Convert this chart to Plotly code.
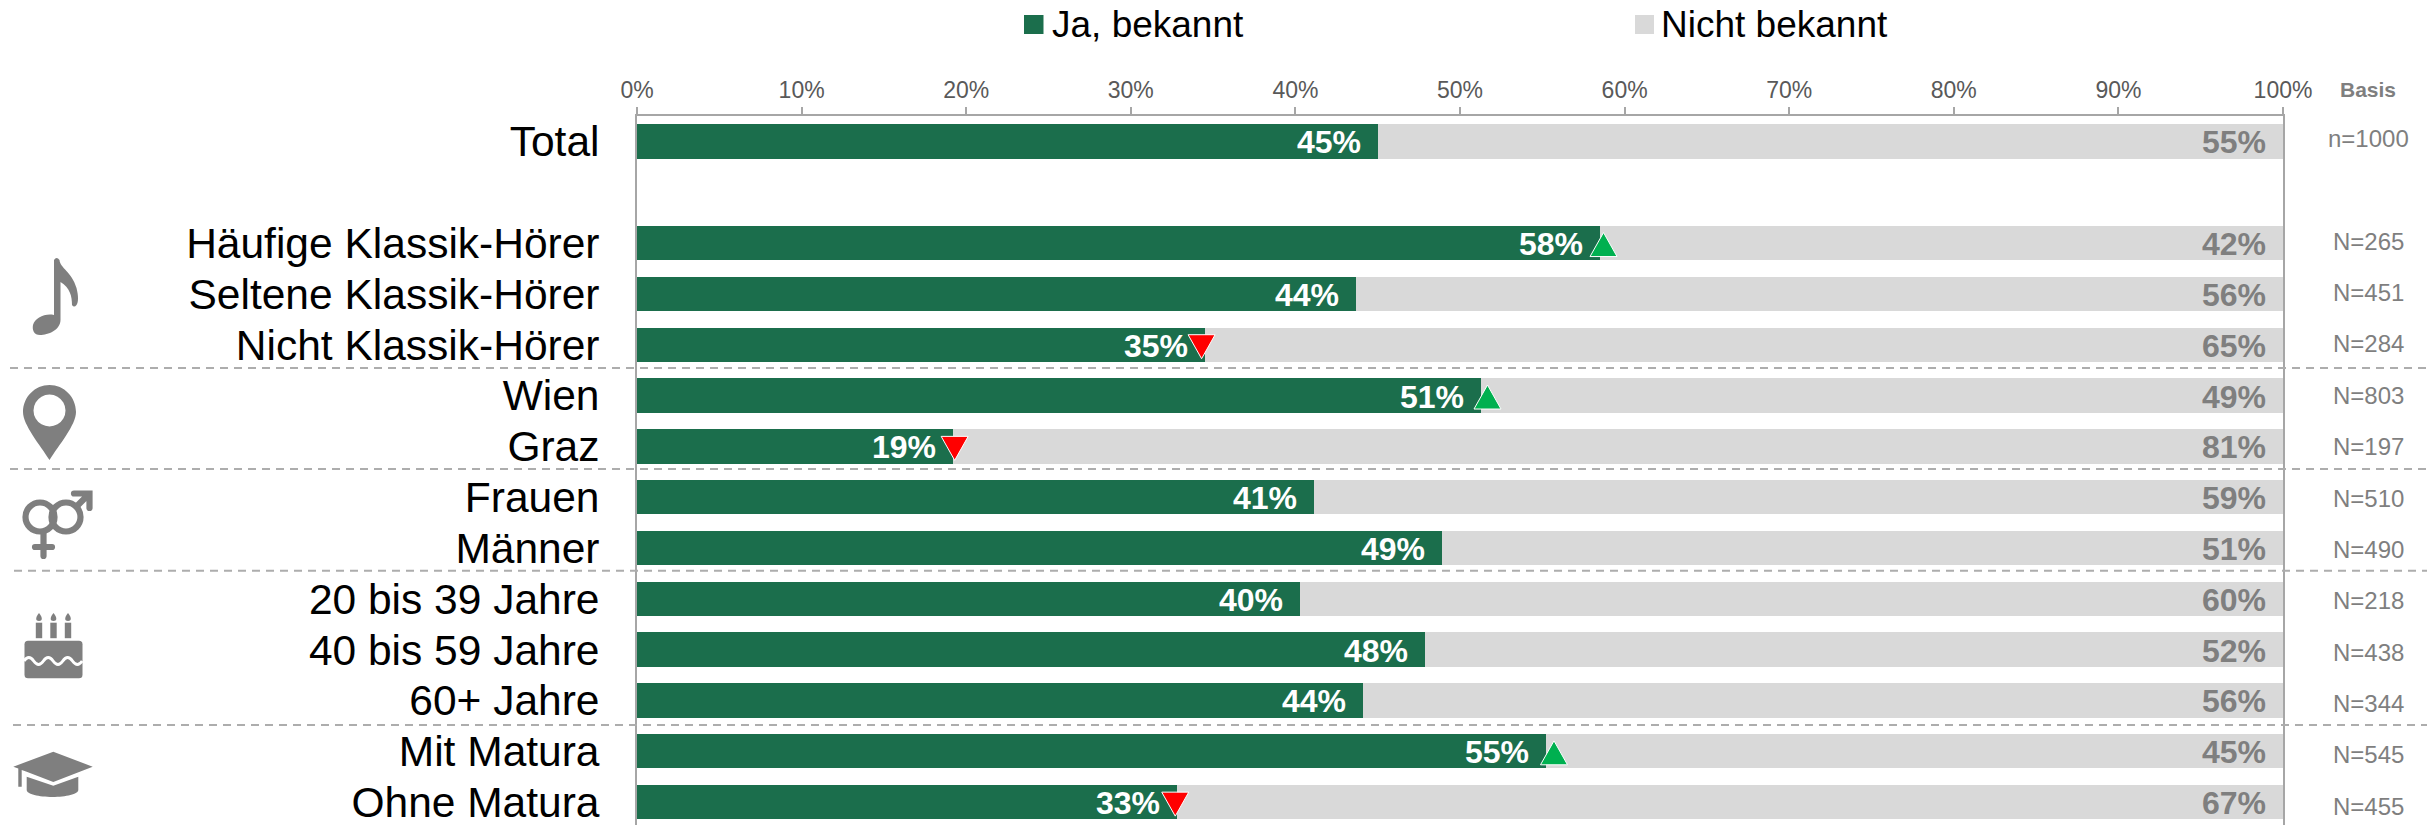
import base64
import plotly.graph_objects as go

FONT = "Liberation Sans"
GREEN = "#1B6E4C"
LIGHT = "#D9D9D9"
GREY = "#7F7F7F"
AXIS = "#A6A6A6"

categories = ["Total", " ", "Häufige Klassik-Hörer", "Seltene Klassik-Hörer", "Nicht Klassik-Hörer",
              "Wien", "Graz", "Frauen", "Männer", "20 bis 39 Jahre", "40 bis 59 Jahre", "60+ Jahre",
              "Mit Matura", "Ohne Matura"]
bekannt = [45.0, None, 58.5, 43.7, 34.5, 51.3, 19.2, 41.1, 48.9, 40.3, 47.9, 44.1, 55.2, 32.8]
nicht_bekannt = [55.0, None, 41.5, 56.3, 65.5, 48.7, 80.8, 58.9, 51.1, 59.7, 52.1, 55.9, 44.8, 67.2]
bekannt_labels = ["45%", "", "58%", "44%", "35%", "51%", "19%", "41%", "49%", "40%", "48%", "44%", "55%", "33%"]
nicht_labels = ["55%", "", "42%", "56%", "65%", "49%", "81%", "59%", "51%", "60%", "52%", "56%", "45%", "67%"]
basis = ["n=1000", "", "N=265", "N=451", "N=284", "N=803", "N=197", "N=510", "N=490", "N=218", "N=438", "N=344", "N=545", "N=455"]
sig_up = {2: 58.72, 5: 51.67, 12: 55.71}
sig_down = {4: 34.3, 6: 19.3, 13: 32.7}
x_ticks = [0, 10, 20, 30, 40, 50, 60, 70, 80, 90, 100]
x_ticktext = ["0%", "10%", "20%", "30%", "40%", "50%", "60%", "70%", "80%", "90%", "100%"]
rows = list(range(len(categories)))

L, R, T, B = 637, 2283, 116, 825
px = lambda x: (x - L) / (R - L)
py = lambda y: 1 - (y - T) / (B - T)

fig = go.Figure()
fig.add_bar(y=rows, x=bekannt, name="Ja, bekannt", orientation="h", marker=dict(color=GREEN, line_width=0), width=0.676)
fig.add_bar(y=rows, x=nicht_bekannt, name="Nicht bekannt", orientation="h", marker=dict(color=LIGHT, line_width=0), width=0.676)

ann = []
for r in rows:
    if not basis[r]:
        continue
    ann.append(dict(x=bekannt[r], y=r, xref="x", yref="y", text=f"<b>{bekannt_labels[r]}</b>", showarrow=False,
                    xanchor="right", yanchor="middle", xshift=-15, yshift=-1, font=dict(family=FONT, size=32, color="white")))
    ann.append(dict(x=100, y=r, xref="x", yref="y", text=f"<b>{nicht_labels[r]}</b>", showarrow=False,
                    xanchor="right", yanchor="middle", xshift=-15, yshift=-1, font=dict(family=FONT, size=32, color=GREY)))
    ann.append(dict(x=px(2368), y=r, xref="paper", yref="y", text=basis[r], showarrow=False, xanchor="center",
                    yanchor="middle", yshift=3 - r * 0.55, font=dict(family=FONT, size=24, color=GREY)))
ann.append(dict(x=px(2368), y=py(89.5), xref="paper", yref="paper", text="<b>Basis</b>", showarrow=False,
                xanchor="center", yanchor="middle", font=dict(family=FONT, size=21, color=GREY)))
ann.append(dict(x=px(1052), y=py(25), xref="paper", yref="paper", text="Ja, bekannt", showarrow=False,
                xanchor="left", yanchor="middle", xshift=-2, font=dict(family=FONT, size=37, color="black")))
ann.append(dict(x=px(1661), y=py(25), xref="paper", yref="paper", text="Nicht bekannt", showarrow=False,
                xanchor="left", yanchor="middle", xshift=-2, font=dict(family=FONT, size=37, color="black")))

shapes = [
    dict(type="rect", xref="paper", yref="paper", x0=px(1024), x1=px(1043.5), y0=py(15), y1=py(34), fillcolor=GREEN, line_width=0),
    dict(type="rect", xref="paper", yref="paper", x0=px(1635), x1=px(1654), y0=py(15), y1=py(34), fillcolor=LIGHT, line_width=0),
]
for y, x0 in [(368, 10), (469, 10), (570.7, 14), (725, 13)]:
    shapes.append(dict(type="line", xref="paper", yref="paper", x0=px(x0), x1=px(2427), y0=py(y), y1=py(y),
                       line=dict(color="#ADADAD", width=2, dash="8px,6px")))
for r, v in sig_up.items():
    shapes.append(dict(type="path", xref="x", yref="y", xsizemode="pixel", ysizemode="pixel", xanchor=v, yanchor=r,
                       path="M -13.5,-13.5 L 13.5,-13.5 L 0,10.5 Z", fillcolor="#00B050", line=dict(color="white", width=1)))
for r, v in sig_down.items():
    shapes.append(dict(type="path", xref="x", yref="y", xsizemode="pixel", ysizemode="pixel", xanchor=v, yanchor=r,
                       path="M -13.5,10 L 13.5,10 L 0,-14 Z", fillcolor="#FF0000", line=dict(color="white", width=1)))


def icon(inner, x0, y0, w, h):
    svg = (f'<svg xmlns="http://www.w3.org/2000/svg" width="{w*4}" height="{h*4}" viewBox="{x0} {y0} {w} {h}">{inner}</svg>')
    src = "data:image/svg+xml;base64," + base64.b64encode(svg.encode()).decode()
    return dict(source=src, xref="paper", yref="paper", x=px(x0), y=py(y0), sizex=w / (R - L), sizey=h / (B - T),
                xanchor="left", yanchor="top", sizing="stretch", layer="above")


note = ('<path fill="#7F7F7F" d="M54,260 Q56.5,256 59.5,260 C60,268 72,272 76.5,288 C78.5,296 78.5,302 76.5,305 '
        'Q74,308 72,305 C72,296 70,288 60.5,282 L60.5,320 C60.5,330 48,335 40,335 C34,335 32,330 33,325 C35,318 45,313 54,315 Z"/>')
pin = ('<path fill="#7F7F7F" fill-rule="evenodd" d="M49.5,385 C35,385 23,397 23,412 C23,425 40,445 49.5,460 '
       'C59,445 76,425 76,412 C76,397 64,385 49.5,385 Z M49.5,394.5 a16,16 0 1,0 0.01,0 Z"/>')
gender = ('<g fill="none" stroke="#7F7F7F" stroke-width="6.2" stroke-linecap="round">'
          '<circle cx="40" cy="517" r="14.5"/><circle cx="66" cy="517" r="14.5"/>'
          '<path d="M43.5,532 V556 M35,547 H52"/><path d="M77,506 L89,494 M74,493.5 H89.5 V508"/></g>')
cake = ('<rect x="24.5" y="640.7" width="58" height="37.5" rx="3.5" fill="#7F7F7F"/>'
        '<path d="M24,661 q4.8,-7 9.7,0 t9.7,0 t9.7,0 t9.7,0 t9.7,0 t9.7,0" fill="none" stroke="white" stroke-width="3"/>'
        + "".join(f'<rect x="{c-3.2}" y="622.7" width="6.4" height="15.5" fill="#7F7F7F"/>'
                  f'<path d="M{c},613 C{c+4},618 {c+3.5},621 {c},621 C{c-3.5},621 {c-4},618 {c},613 Z" fill="#7F7F7F"/>'
                  for c in (39, 53.5, 68)))
cap = ('<path fill="#7F7F7F" d="M13.3,766.7 L53.3,751.7 L92.7,766.7 L53.3,782 L26,771.5 L21.7,770 V786.7 H18.3 V768.5 Z"/>'
       '<path fill="#7F7F7F" d="M26.7,776.7 L53.3,785.7 L78.3,776.7 V790 C78.3,794 66,797 52.5,797 C39,797 26.7,794 26.7,790 Z"/>')
images = [icon(note, 25, 250, 60, 92), icon(pin, 18, 380, 64, 85), icon(gender, 20, 485, 76, 78),
          icon(cake, 20, 608, 68, 75), icon(cap, 10, 748, 88, 53)]

fig.update_layout(
    width=2427, height=825, autosize=False, barmode="stack", bargap=0.32, showlegend=False,
    margin=dict(l=L, r=2427 - R, t=T, b=0, pad=0), paper_bgcolor="white", plot_bgcolor="white",
    font=dict(family=FONT), annotations=ann, shapes=shapes, images=images,
    xaxis=dict(side="top", range=[0, 100], tickvals=x_ticks, ticktext=x_ticktext, ticks="outside", ticklen=7, tickwidth=1.5,
               tickcolor=AXIS, showline=True, linecolor=AXIS, linewidth=2, showgrid=False, zeroline=False,
               tickfont=dict(family=FONT, size=23, color="#595959"), anchor="y"),
    yaxis=dict(range=[13.45, -0.5], tickvals=rows, ticktext=categories, ticks="", ticklabelstandoff=27,
               ticklabeloverflow="allow", showline=True, mirror=True, linecolor=AXIS, linewidth=2, showgrid=False,
               zeroline=False, tickfont=dict(family=FONT, size=42.5, color="black")),
)
fig.write_html("out.html", config=dict(displayModeBar=False),
               post_script="document.body.style.margin='0';document.body.style.overflow='hidden';")
